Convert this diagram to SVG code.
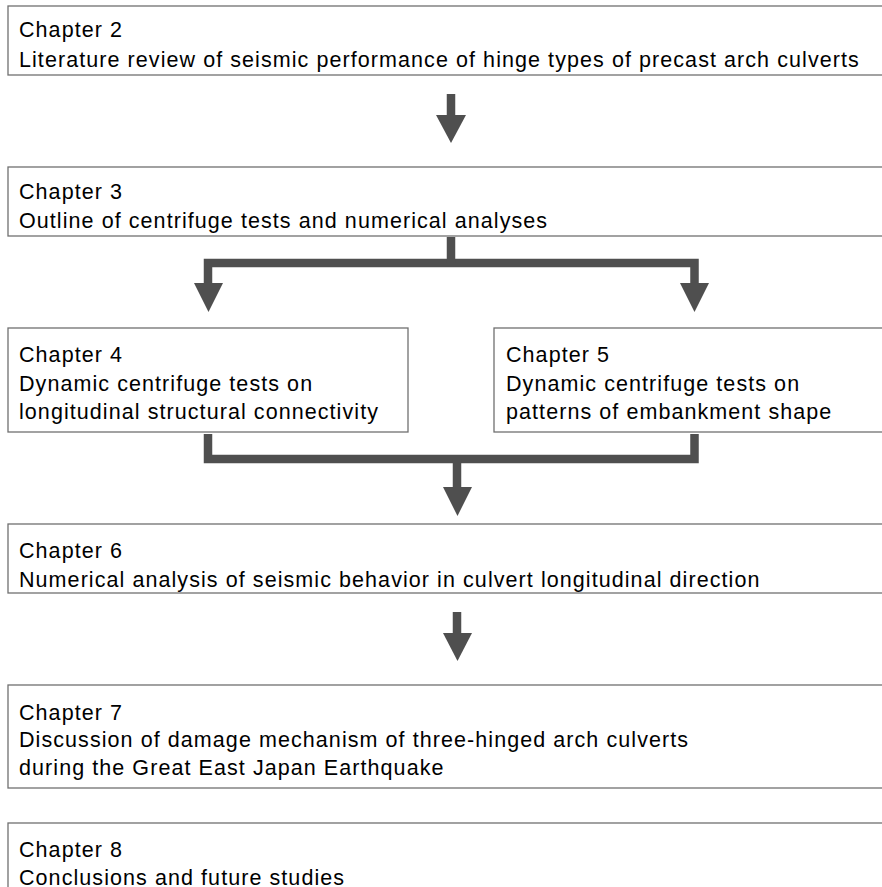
<svg xmlns="http://www.w3.org/2000/svg" width="882" height="887" viewBox="0 0 882 887">
<style>
.box{fill:#fff;stroke:#707070;stroke-width:1.3}
text{font-family:"Liberation Sans",Arial,sans-serif;font-size:21.5px;letter-spacing:1.07px;fill:#000}
.ln{fill:none;stroke:#4f4f4f;stroke-width:8.5;stroke-linejoin:miter;stroke-linecap:butt}
.hd{fill:#4f4f4f}
</style>
<rect width="882" height="887" fill="#fff"/>
<g id="ch2"><rect class="box" x="8" y="6" width="890" height="69"/>
<text x="19" y="37">Chapter 2</text><text x="19" y="66.5">Literature review of seismic performance of hinge types of precast arch culverts</text></g>
<g id="ch3"><rect class="box" x="8" y="167" width="890" height="69"/>
<text x="19" y="199">Chapter 3</text><text x="19" y="228">Outline of centrifuge tests and numerical analyses</text></g>
<g id="ch4"><rect class="box" x="8" y="328" width="400" height="104"/>
<text x="19" y="361.5">Chapter 4</text><text x="19" y="390.5">Dynamic centrifuge tests on</text><text x="19" y="419">longitudinal structural connectivity</text></g>
<g id="ch5"><rect class="box" x="494" y="328" width="400" height="104"/>
<text x="506" y="361.5">Chapter 5</text><text x="506" y="390.5">Dynamic centrifuge tests on</text><text x="506" y="419">patterns of embankment shape</text></g>
<g id="ch6"><rect class="box" x="8" y="524" width="890" height="69"/>
<text x="19" y="557.5">Chapter 6</text><text x="19" y="586.5">Numerical analysis of seismic behavior in culvert longitudinal direction</text></g>
<g id="ch7"><rect class="box" x="8" y="685" width="890" height="103"/>
<text x="19" y="719.5">Chapter 7</text><text x="19" y="747">Discussion of damage mechanism of three-hinged arch culverts</text><text x="19" y="774.5">during the Great East Japan Earthquake</text></g>
<g id="ch8"><rect class="box" x="8" y="823" width="890" height="100"/>
<text x="19" y="856.5">Chapter 8</text><text x="19" y="884.5">Conclusions and future studies</text></g>
<g id="connectors">
<line class="ln" x1="451" y1="94" x2="451" y2="116"/>
<polygon class="hd" points="436,115 466,115 451,143"/>
<polyline class="ln" points="208,284 208,263 694.5,263 694.5,284"/>
<line class="ln" x1="451" y1="237" x2="451" y2="263"/>
<polygon class="hd" points="194,283 223,283 208.5,312"/>
<polygon class="hd" points="680,283 709,283 694.5,312"/>
<polyline class="ln" points="208,434 208,459 694.5,459 694.5,434"/>
<line class="ln" x1="457" y1="459" x2="457" y2="488"/>
<polygon class="hd" points="443,487 472,487 457.5,516"/>
<line class="ln" x1="457" y1="612" x2="457" y2="634"/>
<polygon class="hd" points="443,633 472,633 457.5,661"/>
</g>
</svg>
